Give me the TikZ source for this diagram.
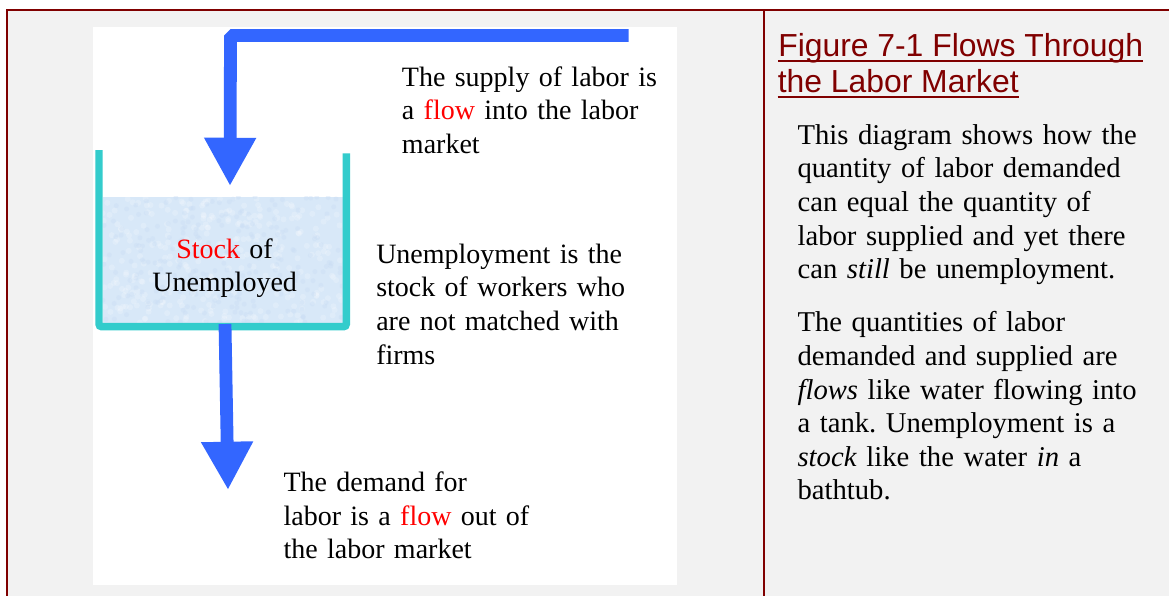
\documentclass[tikz,border=0pt]{standalone}
\usepackage{fontspec}
\setmainfont{Liberation Serif}
\newfontfamily\titlefont{Liberation Sans}
\usetikzlibrary{arrows.meta}
\definecolor{framered}{HTML}{800000}
\definecolor{panelgray}{HTML}{F2F2F2}
\definecolor{flowblue}{HTML}{3366FF}
\definecolor{tankcyan}{HTML}{33CCCC}
\definecolor{water}{HTML}{D8E8F8}
\definecolor{waterdark}{HTML}{C8DCF4}
\newcommand\bodyfont{\frenchspacing\fontsize{21.5pt}{25.2pt}\selectfont}
\newcommand\leftfont{\frenchspacing\fontsize{21pt}{25.2pt}\selectfont}
\newcommand\headfont{\titlefont\fontsize{23.9pt}{27pt}\selectfont}
\newcommand\hl[1]{\textcolor{red}{#1}}
\tikzset{
  txt/.style={font=\leftfont, anchor=base west, inner sep=0pt, align=left, text width=#1},
  desctxt/.style={font=\bodyfont, anchor=base west, inner sep=0pt, align=left, text width=#1},
  ctxt/.style={font=\leftfont, anchor=base, inner sep=0pt, align=center, text width=#1},
  headtxt/.style={font=\headfont, text=framered, anchor=base west, inner sep=0pt},
  headline/.style={draw=framered, line width=1.3pt},
  frameline/.style={draw=framered, line width=1.5pt},
  flowarrow/.style={draw=flowblue, line width=9.6pt, line join=bevel,
    -{Triangle[width=36.5pt,length=36.2pt]}},
  tank/.style={draw=tankcyan, line width=5.6pt, rounded corners=2pt},
}
\begin{document}
\begin{tikzpicture}[x=0.75pt,y=-0.75pt]
\useasboundingbox (0,0) rectangle (1169,596);
% backgrounds
\fill[panelgray] (7,10.4) rectangle (1169,596);
\fill[white] (92.7,26.7) rectangle (677.3,585);
% water
\fill[water] (102.7,196.7) rectangle (342.7,322.7);
\begin{scope}
  \clip (102.7,196.7) rectangle (342.7,322.7);
  \pgfmathsetseed{7}
  \foreach \i in {1,...,300}{
    \pgfmathsetmacro\rx{102.7+240*rnd}
    \pgfmathsetmacro\ry{196.7+126*rnd}
    \fill[white,opacity=0.2] (\rx,\ry) circle (3);
  }
  \foreach \i in {1,...,250}{
    \pgfmathsetmacro\rx{102.7+240*rnd}
    \pgfmathsetmacro\ry{196.7+126*rnd}
    \fill[waterdark,opacity=0.35] (\rx,\ry) circle (2.5);
  }
\end{scope}
% tank
\draw[tank] (99,150) -- (99,326.7) -- (346.3,326.7) -- (346.3,153.3);
% arrows
\coordinate (supplysrc) at (628.7,35.5);
\coordinate (supplycorner) at (230.5,35.5);
\coordinate (supplytip) at (230,186);
\coordinate (demandsrc) at (225,324);
\coordinate (demandtip) at (228,490);
\draw[flowarrow] (supplysrc) -- (supplycorner) -- (supplytip);
\draw[flowarrow] (demandsrc) -- (demandtip);
% texts
\node[txt=240pt] (supply) at (401.7,86) {The supply of labor is\\ a \hl{flow} into the labor\\ market};
\node[ctxt=165pt] (stock) at (224.6,258) {\hl{Stock} of\\ Unemployed};
\node[txt=225pt] (unemp) at (376,263.3) {Unemployment is the\\ stock of workers who\\ are not matched with\\ firms};
\node[txt=240pt] (demand) at (283.3,491.7) {The demand for\\ labor is a \hl{flow} out of\\ the labor market};
% title
\node[headtxt] (title1) at (778,56.7) {Figure 7-1 Flows Through};
\node[headtxt] (title2) at (777.5,92.7) {the Labor Market};
\draw[headline] ([yshift=-3pt]title1.base west) -- ([yshift=-3pt]title1.base east);
\draw[headline] ([yshift=-3pt]title2.base west) -- ([yshift=-3pt]title2.base east);
% description
\node[desctxt=280pt] (desc) at (797.3,144.3) {This diagram shows how the\\ quantity of labor demanded\\ can equal the quantity of\\ labor supplied and yet there\\ can \textit{still} be unemployment.\\[14.7pt]
The quantities of labor\\ demanded and supplied are\\ \textit{flows} like water flowing into\\ a tank. Unemployment is a\\ \textit{stock} like the water \textit{in} a\\ bathtub.};
% frame
\draw[frameline] (6,10.4) -- (1169,10.4);
\draw[frameline] (7,9.6) -- (7,596);
\draw[frameline] (763.7,10.4) -- (763.7,596);
\end{tikzpicture}
\end{document}
